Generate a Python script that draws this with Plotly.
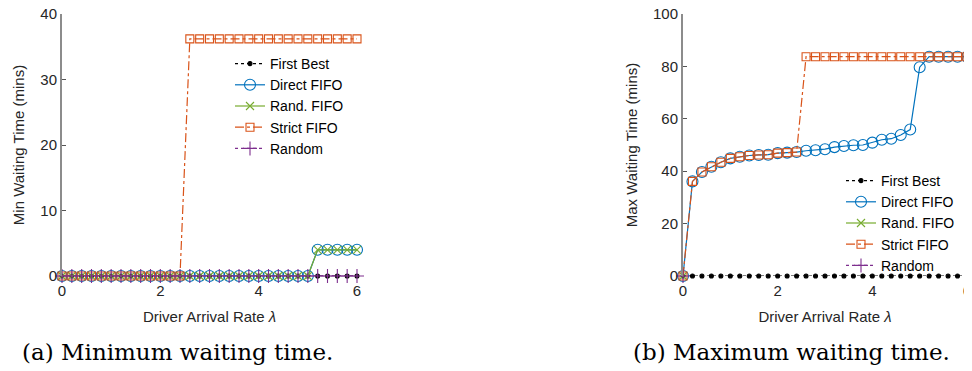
import plotly.graph_objects as go

# page has an 8px body margin, so the figure is laid out in its own pixel frame
W, H = 964, 363

lam = [round(0.2 * i, 1) for i in range(31)]

# (a) Minimum waiting time
min_first_best = [0] * 31
min_direct_fifo = [0] * 26 + [4] * 5
min_rand_fifo = [0] * 26 + [4] * 5
min_strict_fifo = [0] * 13 + [36.2] * 18
min_random = [0] * 31

# (b) Maximum waiting time
max_first_best = [0] * 31
max_direct_fifo = [0, 36.1, 39.7, 41.7, 43.4, 44.9, 45.5, 46.0, 46.2, 46.3, 46.9,
                   47.1, 47.3, 47.8, 48.0, 48.4, 49.2, 49.6, 49.9, 50.0, 50.9,
                   52.0, 52.4, 53.8, 55.9, 79.7, 83.7, 83.7, 83.7, 83.7, 83.7]
max_rand_fifo = [0] + [None] * 30
max_strict_fifo = max_direct_fifo[:13] + [83.7] * 18
max_random = [0] + [None] * 30

series_names = ["First Best", "Direct FIFO", "Rand. FIFO", "Strict FIFO", "Random"]
colors = ["#000000", "#0072BD", "#77AC30", "#D95319", "#7E2F8E"]
dashes = ["dot", "solid", "solid", "dashdot", "dot"]
symbols = ["circle", "circle-open", "x-thin-open", "square-open", "cross-thin-open"]
msizes = [4, 11, 8, 8, 10]

FONT = "Liberation Sans, Arial, sans-serif"
TXT = "#262626"

fig = go.Figure()

def add_series(data, xa, ya, legend):
    for i, ys in enumerate(data):
        fig.add_trace(go.Scatter(
            x=lam, y=ys, mode="lines+markers", name=series_names[i],
            xaxis=xa, yaxis=ya, legend=legend, cliponaxis=False,
            line=dict(color=colors[i], width=1.2, dash=dashes[i]),
            marker=dict(symbol=symbols[i], size=msizes[i], color=colors[i],
                        line=dict(color=colors[i], width=1.1)),
        ))

add_series([min_first_best, min_direct_fifo, min_rand_fifo, min_strict_fifo, min_random],
           "x", "y", "legend")
add_series([max_first_best, max_direct_fifo, max_rand_fifo, max_strict_fifo, max_random],
           "x2", "y2", "legend2")

ydom = [1 - 268 / H, 1 - 6 / H]
xcommon = dict(range=[0, 6], tickvals=[0, 2, 4, 6], showline=False, showgrid=False,
               zeroline=False, ticks="", automargin=False, ticklabelstandoff=4,
               ticklabeloverflow="allow",
               tickfont=dict(family=FONT, size=15, color=TXT),
               title=dict(font=dict(family=FONT, size=15, color=TXT), standoff=13))
ycommon = dict(showline=True, linecolor="#8c8c8c", linewidth=2, showgrid=False,
               zeroline=False, ticks="inside", ticklen=4, tickcolor="#555555",
               automargin=False, ticklabeloverflow="allow",
               tickfont=dict(family=FONT, size=15, color=TXT),
               title=dict(font=dict(family=FONT, size=15, color=TXT), standoff=12))

fig.update_layout(
    template="none",
    width=W, height=H, margin=dict(l=0, r=0, t=0, b=0, autoexpand=False),
    plot_bgcolor="white", paper_bgcolor="white",
    xaxis=dict(domain=[54 / W, 349 / W], anchor="y",
               title_text="Driver Arrival Rate <i>λ</i>", **xcommon),
    yaxis=dict(domain=ydom, anchor="x", range=[0, 40], tickvals=[0, 10, 20, 30, 40],
               title_text="Min Waiting Time (mins)", **ycommon),
    xaxis2=dict(domain=[675 / W, 959 / W], anchor="y2",
                title_text="Driver Arrival Rate <i>λ</i>", **xcommon),
    yaxis2=dict(domain=ydom, anchor="x2", range=[0, 100],
                tickvals=[0, 20, 40, 60, 80, 100],
                title_text="Max Waiting Time (mins)", **ycommon),
    legend=dict(x=222 / W, y=1 - 40 / H, xanchor="left", yanchor="top",
                bgcolor="rgba(0,0,0,0)", borderwidth=0, tracegroupgap=0,
                itemwidth=30, font=dict(family=FONT, size=14, color="#000000")),
    legend2=dict(x=833 / W, y=1 - 157 / H, xanchor="left", yanchor="top",
                 bgcolor="rgba(0,0,0,0)", borderwidth=0, tracegroupgap=0,
                 itemwidth=30, font=dict(family=FONT, size=14, color="#000000")),
    annotations=[
        dict(text="(a) Minimum waiting time.", x=169 / W, y=1 - 344 / H,
             xref="paper", yref="paper", showarrow=False, xanchor="center", yanchor="middle",
             font=dict(family="DejaVu Serif, serif", size=23, color="#000000")),
        dict(text="(b) Maximum waiting time.", x=783 / W, y=1 - 344 / H,
             xref="paper", yref="paper", showarrow=False, xanchor="center", yanchor="middle",
             font=dict(family="DejaVu Serif, serif", size=23, color="#000000")),
    ],
)

fig.write_html("out.html")
